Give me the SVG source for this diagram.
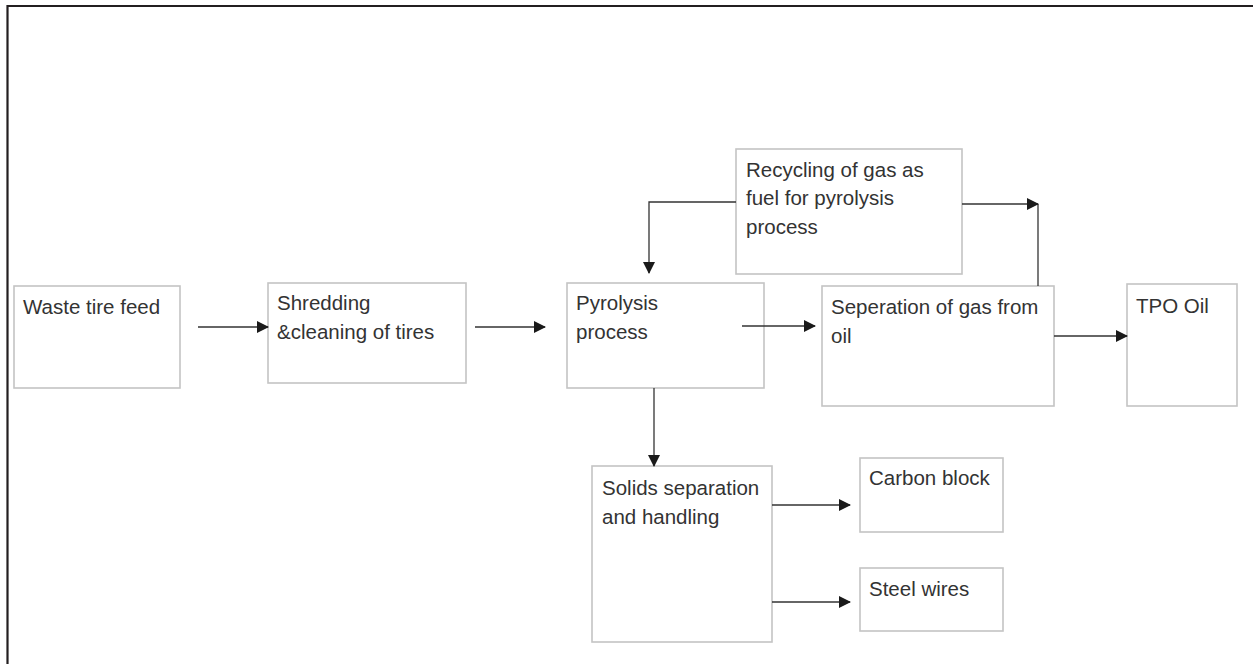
<svg xmlns="http://www.w3.org/2000/svg" width="1253" height="664" viewBox="0 0 1253 664">
<defs>
<style>
.box{fill:#fff;stroke:#c4c4c4;stroke-width:1.6}
.t{font-family:"Liberation Sans",Arial,sans-serif;font-size:20.5px;fill:#333}
.c{fill:none;stroke:#333;stroke-width:1.3}
</style>
<marker id="ah" markerWidth="12" markerHeight="12" refX="11" refY="6" orient="auto" markerUnits="userSpaceOnUse">
<path d="M0,0 L12,6 L0,12 Z" fill="#1a1a1a"/>
</marker>
</defs>
<rect width="1253" height="664" fill="#fff"/>
<path d="M7.5,664 V6 H1253" fill="none" stroke="#231f20" stroke-width="2.2"/>
<g id="n-waste"><rect class="box" x="14" y="286" width="166" height="102"/><text class="t" x="23" y="314">Waste tire feed</text></g>
<g id="n-shred"><rect class="box" x="268" y="283" width="198" height="100"/><text class="t" x="277" y="310">Shredding</text><text class="t" x="277" y="339">&amp;cleaning of tires</text></g>
<g id="n-pyro"><rect class="box" x="567" y="283" width="197" height="105"/><text class="t" x="576" y="310">Pyrolysis</text><text class="t" x="576" y="339">process</text></g>
<g id="n-recycle"><rect class="box" x="736" y="149" width="226" height="125"/><text class="t" x="746" y="177">Recycling of gas as</text><text class="t" x="746" y="205">fuel for pyrolysis</text><text class="t" x="746" y="234">process</text></g>
<g id="n-sep"><rect class="box" x="822" y="286" width="232" height="120"/><text class="t" x="831" y="314">Seperation of gas from</text><text class="t" x="831" y="343">oil</text></g>
<g id="n-tpo"><rect class="box" x="1127" y="284" width="110" height="122"/><text class="t" x="1136" y="313">TPO Oil</text></g>
<g id="n-solids"><rect class="box" x="592" y="466" width="180" height="176"/><text class="t" x="602" y="495">Solids separation</text><text class="t" x="602" y="524">and handling</text></g>
<g id="n-carbon"><rect class="box" x="860" y="458" width="143" height="74"/><text class="t" x="869" y="485">Carbon block</text></g>
<g id="n-steel"><rect class="box" x="860" y="568" width="143" height="63"/><text class="t" x="869" y="596">Steel wires</text></g>
<g id="connectors">
<path class="c" d="M198,327 H268" marker-end="url(#ah)"/>
<path class="c" d="M475,327 H545" marker-end="url(#ah)"/>
<path class="c" d="M742,326 H815" marker-end="url(#ah)"/>
<path class="c" d="M1054,336 H1127" marker-end="url(#ah)"/>
<path class="c" d="M736,202 H649 V273" marker-end="url(#ah)"/>
<path class="c" d="M1038,286 V204"/>
<path class="c" d="M962,204 H1038" marker-end="url(#ah)"/>
<path class="c" d="M654,388 V466" marker-end="url(#ah)"/>
<path class="c" d="M772,505 H850" marker-end="url(#ah)"/>
<path class="c" d="M772,602 H850" marker-end="url(#ah)"/>
</g>
</svg>
